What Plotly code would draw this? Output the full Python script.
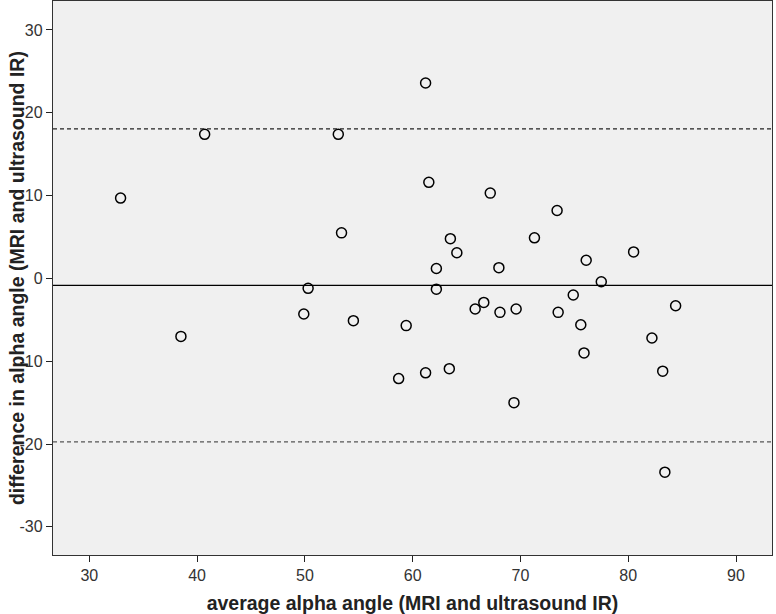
import plotly.graph_objects as go

# average alpha angle (x) and difference (y) per subject
avg_angle = [32.9, 38.5, 40.7, 49.9, 50.3, 53.1, 53.4, 54.5, 58.7, 59.4,
             61.2, 61.2, 61.5, 62.2, 62.2, 63.4, 63.5, 64.1, 65.8, 66.6,
             67.2, 68.0, 68.1, 69.4, 69.6, 71.3, 73.4, 73.5, 74.9, 75.6,
             75.9, 76.1, 77.5, 80.5, 82.2, 83.2, 83.4, 84.4]
diff_angle = [9.7, -7.0, 17.4, -4.3, -1.2, 17.4, 5.5, -5.1, -12.1, -5.7,
              23.6, -11.4, 11.6, 1.2, -1.3, -10.9, 4.8, 3.1, -3.7, -2.9,
              10.3, 1.3, -4.1, -15.0, -3.7, 4.9, 8.2, -4.1, -2.0, -5.6,
              -9.0, 2.2, -0.4, 3.2, -7.2, -11.2, -23.4, -3.3]

x_ticks = [30, 40, 50, 60, 70, 80, 90]
y_ticks = [-30, -20, -10, 0, 10, 20, 30]

mean_diff = -0.85
upper_loa = 18.05
lower_loa = -19.75

fig = go.Figure()
fig.add_trace(go.Scatter(
    x=avg_angle, y=diff_angle, mode="markers",
    marker=dict(symbol="circle-open", size=10, color="black", line=dict(width=1.5)),
    showlegend=False,
))

fig.add_hline(y=upper_loa, line=dict(color="#222222", width=1.2, dash="4px,3px"))
fig.add_hline(y=mean_diff, line=dict(color="black", width=1.3))
fig.add_hline(y=lower_loa, line=dict(color="#555555", width=1.2, dash="4px,3px"))

axis_common = dict(
    showgrid=False, zeroline=False, showline=True, linecolor="#333333",
    linewidth=1.3, mirror=True, ticks="outside", ticklen=6, tickwidth=1.3,
    tickcolor="#222222", automargin=False,
    tickfont=dict(family="Liberation Sans", size=16, color="#333333"),
)

fig.update_xaxes(range=[26.63, 93.34], tickvals=x_ticks,
                 ticktext=[str(v) for v in x_ticks],
                 title=dict(text="<b>average alpha angle (MRI and ultrasound IR)</b>",
                            font=dict(family="Liberation Sans", size=19.5, color="#222222"),
                            standoff=14),
                 **axis_common)
fig.update_yaxes(range=[-33.4, 33.5], tickvals=y_ticks,
                 ticktext=[str(v) for v in y_ticks],
                 **axis_common)

# y title as an annotation so it sits where the original does
fig.add_annotation(
    text="<b>difference in alpha angle (MRI and ultrasound IR)</b>",
    xref="paper", yref="paper", x=-0.05, y=0.5, textangle=-90,
    showarrow=False, xanchor="center", yanchor="middle",
    font=dict(family="Liberation Sans", size=19.5, color="#222222"),
)

fig.update_layout(
    width=776, height=614,
    margin=dict(l=53, r=4, t=1, b=59),
    plot_bgcolor="#f0f0f0", paper_bgcolor="white",
    font=dict(family="Liberation Sans"),
)

fig.write_html("out.html", config={"displayModeBar": False},
               post_script="document.body.style.margin='0';")
